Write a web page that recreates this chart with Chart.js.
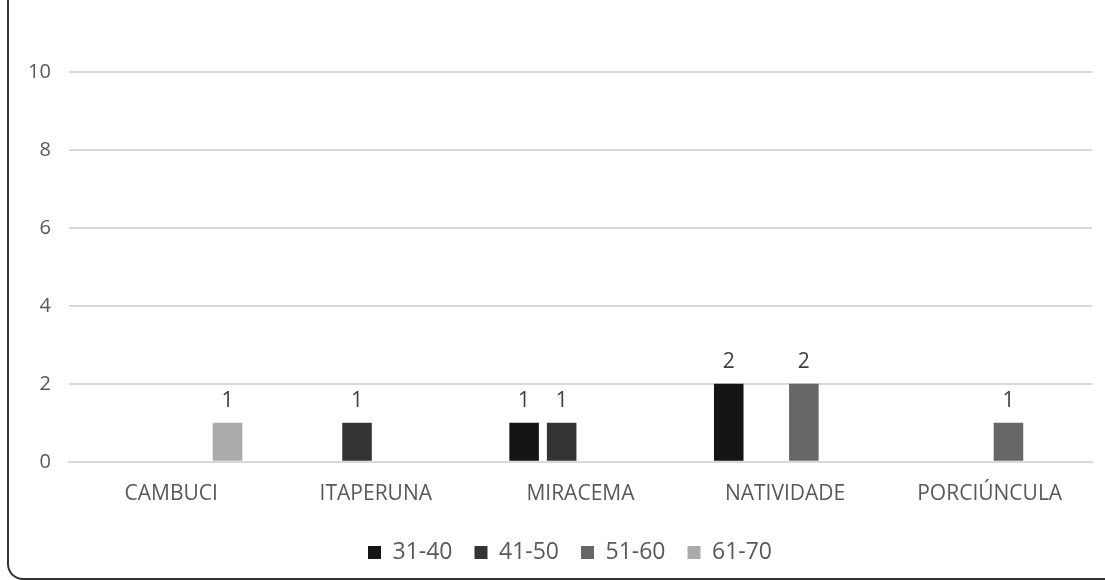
<!DOCTYPE html>
<html><head><meta charset="utf-8">
<script src="https://cdn.jsdelivr.net/npm/chart.js@4/dist/chart.umd.min.js"></script>
<style>
html,body{margin:0;padding:0;background:#fff;width:1105px;height:580px;overflow:hidden;}
#frame{position:absolute;left:7px;top:-20px;width:1200px;height:600px;border:2px solid #333;border-radius:16px;box-sizing:border-box;}
#wrap{position:absolute;left:0;top:0;width:1105px;height:580px;}
</style></head>
<body>
<div id="frame"></div>
<div id="wrap"><canvas id="c" width="1105" height="580"></canvas></div>
<script>
const categories = ["CAMBUCI","ITAPERUNA","MIRACEMA","NATIVIDADE","PORCIÚNCULA"];
const seriesNames = ["31-40","41-50","51-60","61-70"];
const s3140 = [0,0,1,2,0];
const s4150 = [0,1,1,0,0];
const s5160 = [0,0,0,2,1];
const s6170 = [1,0,0,0,0];
const yTicks = [0,2,4,6,8,10];
const colors = ["#141414","#333333","#666666","#ababab"];
const FONT = "'Open Sans', sans-serif";

const valueLabels = {
  id:'valueLabels',
  afterDatasetsDraw(chart){
    const ctx = chart.ctx;
    ctx.save();
    ctx.font = "21px " + FONT;
    ctx.fillStyle = "#404040";
    ctx.textAlign = "center";
    ctx.textBaseline = "bottom";
    chart.data.datasets.forEach((ds,i)=>{
      chart.getDatasetMeta(i).data.forEach((el,j)=>{
        const v = ds.data[j];
        if(v){ ctx.fillText(String(v), el.x, el.y - 11); }
      });
    });
    ctx.restore();
  }
};
const legendShift = {
  id:'legendShift',
  afterLayout(chart){ if(chart.legend){ chart.legend.left += 19; chart.legend.right += 19; } }
};

const seriesData = [s3140,s4150,s5160,s6170];
new Chart(document.getElementById('c'),{
  type:'bar',
  data:{
    labels:categories,
    datasets:seriesNames.map((n,i)=>({label:n,data:seriesData[i],backgroundColor:colors[i],borderWidth:0,categoryPercentage:0.734,barPercentage:0.787}))
  },
  options:{
    responsive:false,animation:false,
    layout:{padding:{top:72,right:13,left:10,bottom:6}},
    plugins:{
      legend:{position:'bottom',labels:{boxWidth:13,boxHeight:13,color:'#595959',font:{family:FONT,size:23},padding:22}},
      tooltip:{enabled:false}
    },
    scales:{
      x:{grid:{display:false},border:{display:true,color:'#d9d9d9',width:2},ticks:{color:'#595959',font:{family:FONT,size:21},padding:12}},
      y:{min:0,max:10,afterBuildTicks(ax){ax.ticks=yTicks.map(v=>({value:v}));},
         grid:{color:'#d9d9d9',lineWidth:2,drawTicks:false},border:{display:false},
         ticks:{color:'#595959',font:{family:FONT,size:20},padding:18}}
    }
  },
  plugins:[valueLabels,legendShift]
});
</script>
</body></html>
